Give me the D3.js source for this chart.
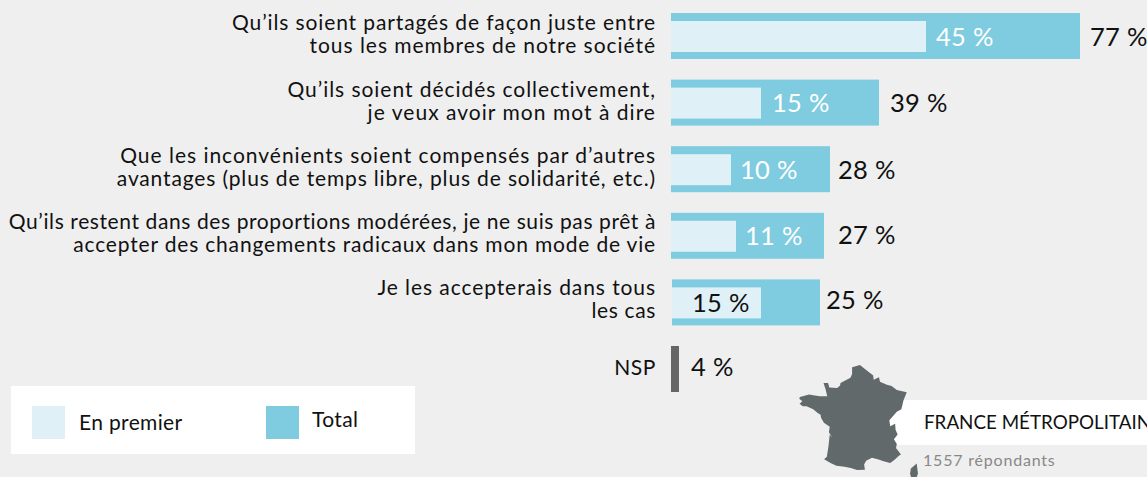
<!DOCTYPE html>
<html lang="fr"><head><meta charset="utf-8">
<script src="https://cdn.jsdelivr.net/npm/d3@7/dist/d3.min.js"></script>
<style>
html,body{margin:0;padding:0;background:#efefef;overflow:hidden}
svg{display:block}
text{font-family:Lato,"Open Sans",sans-serif;fill:#111}
</style></head><body><svg id="c" width="1147" height="477"></svg>
<script>
const categories = [
  ["Qu’ils soient partagés de façon juste entre","tous les membres de notre société"],
  ["Qu’ils soient décidés collectivement,","je veux avoir mon mot à dire"],
  ["Que les inconvénients soient compensés par d’autres","avantages (plus de temps libre, plus de solidarité, etc.)"],
  ["Qu’ils restent dans des proportions modérées, je ne suis pas prêt à","accepter des changements radicaux dans mon mode de vie"],
  ["Je les accepterais dans tous","les cas"],
  ["NSP"]
];
const totalValues = [77,39,28,27,25,4];
const firstValues = [45,15,10,11,15,null];
const seriesNames = ["En premier","Total"];
const mapLabel = "FRANCE MÉTROPOLITAINE";
const respondents = "1557 répondants";

// Bars in the source are hand-placed, not strictly proportional: piecewise scale
const xKnots = [0,4,10,11,15,25,27,28,39,45,77];
const xWidths = [0,8,60,65,90,149,153,159,208,255,409];

const mainland = [[2.55,51.08],[3.15,50.78],[4.15,50.28],[4.2,49.95],[4.85,50.15],[4.97,49.8],[5.8,49.55],[6.37,49.46],[7.0,49.15],[8.2,48.97],[7.8,48.3],[7.55,47.6],[7.0,47.4],[6.1,46.7],[6.2,46.2],[6.8,46.4],[6.85,45.9],[7.1,45.5],[6.65,45.1],[7.0,44.7],[6.9,44.35],[7.5,43.78],[7.25,43.68],[6.7,43.3],[6.2,43.05],[5.4,43.2],[4.8,43.35],[4.0,43.5],[3.3,43.25],[3.05,42.9],[3.15,42.45],[2.2,42.42],[1.45,42.6],[0.7,42.7],[-0.3,42.8],[-1.0,43.05],[-1.78,43.37],[-1.45,43.6],[-1.25,44.5],[-1.1,45.5],[-0.75,45.2],[-1.2,45.7],[-1.1,46.15],[-1.8,46.5],[-2.15,46.9],[-2.2,47.15],[-2.55,47.3],[-3.1,47.6],[-3.9,47.85],[-4.35,47.85],[-4.75,48.05],[-4.4,48.25],[-4.78,48.45],[-4.7,48.58],[-3.6,48.78],[-2.9,48.7],[-2.3,48.65],[-1.95,48.65],[-1.4,48.65],[-1.6,49.2],[-1.85,49.7],[-1.3,49.7],[-1.15,49.35],[-0.2,49.3],[0.15,49.5],[0.2,49.7],[1.4,50.1],[1.6,50.4],[1.6,50.9],[2.55,51.08]];
const corsica = [[9.4,43.0],[9.55,42.1],[9.25,41.4],[8.8,41.55],[8.6,42.1],[8.7,42.55],[9.4,43.0]];

const C = {bg:"#efefef", total:"#7fcce0", first:"#dff0f6", nsp:"#666666", map:"#62696b"};
const x0 = 671;
const svg = d3.select("#c");
const x = d3.scaleLinear().domain(xKnots).range(xWidths.map(w=>x0+w));
const idx = d3.range(categories.length);
const y = d3.scaleBand().domain(idx).range([13,392]).paddingInner(0.3093).paddingOuter(0);
const isNSP = i => firstValues[i]===null;
const pct = v => v+" %";

// category labels
const lineBase = [30,97,163,229,295,375];
const catTracking = [[.88,.96],[.95,1.03],[.98,.85],[.6,.82],[.92,.65],[.6]];
const g = svg.append("g");
idx.forEach(i=>{
  categories[i].forEach((s,j)=>{
    g.append("text").attr("class","cat").attr("x",656).attr("y",lineBase[i]+j*23)
     .attr("text-anchor","end").attr("font-size",21).attr("letter-spacing",catTracking[i][j]).text(s);
  });
});

// total bars
const start = i => i===4 ? x0+1 : x0;
svg.selectAll("rect.total").data(idx).join("rect").attr("class","total")
  .attr("x",start).attr("y",i=>y(i)).attr("width",i=>x(totalValues[i])-start(i)).attr("height",y.bandwidth())
  .attr("fill",i=>isNSP(i)?C.nsp:C.total);
svg.selectAll("rect.first").data(idx.filter(i=>!isNSP(i))).join("rect").attr("class","first")
  .attr("x",start).attr("y",i=>y(i)+8).attr("width",i=>x(firstValues[i])-start(i)).attr("height",31)
  .attr("fill",C.first);

// value labels
const totalNudge = [10,11,8,14,6,12];
const totalDy = [33,32,33,31,30,30];
svg.selectAll("text.tv").data(idx).join("text").attr("class","tv")
  .attr("x",i=>x(totalValues[i])+totalNudge[i]).attr("y",i=>y(i)+totalDy[i])
  .attr("font-size",25.5).attr("letter-spacing",0.3).text(i=>pct(totalValues[i]));
const firstNudge = [10,11,9,9,-69];
const firstDy = [33,32,33,32,33];
svg.selectAll("text.fv").data(idx.filter(i=>!isNSP(i))).join("text").attr("class","fv")
  .attr("x",i=>x(firstValues[i])+firstNudge[i]).attr("y",i=>y(i)+firstDy[i])
  .attr("font-size",25.5).attr("letter-spacing",0.3).style("fill",i=>i===4?"#111":"#fff").text(i=>pct(firstValues[i]));

// legend
svg.append("rect").attr("x",11).attr("y",386).attr("width",404).attr("height",68).attr("fill","#fff");
const legX = [32,266], legTx=[79,312], legBase=[430,427];
seriesNames.forEach((n,i)=>{
  svg.append("rect").attr("x",legX[i]).attr("y",406).attr("width",33).attr("height",33).attr("fill",i?C.total:C.first);
  svg.append("text").attr("x",legTx[i]).attr("y",legBase[i]).attr("font-size",21).attr("letter-spacing",0.35).text(n);
});

// map
svg.append("rect").attr("x",880).attr("y",400).attr("width",267).attr("height",45).attr("fill","#fff");
const main = {type:"Polygon",coordinates:[mainland]};
const proj = d3.geoMercator().fitExtent([[799,365],[907,470]],main);
const path = d3.geoPath(proj);
svg.append("path").attr("d",path(main)).attr("fill",C.map);
svg.append("path").attr("d",path({type:"Polygon",coordinates:[corsica]})).attr("fill",C.map);
svg.append("text").attr("x",924).attr("y",429).attr("font-size",18.8).text(mapLabel);
svg.append("text").attr("x",923).attr("y",466).attr("font-size",16).attr("letter-spacing",0.8).style("fill","#888").text(respondents);
</script></body></html>
